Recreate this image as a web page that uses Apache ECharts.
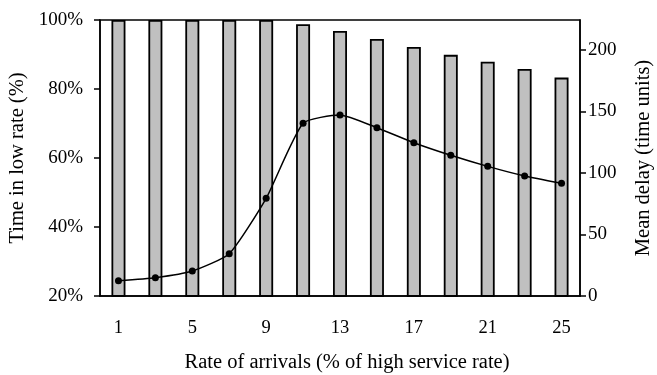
<!DOCTYPE html>
<html>
<head>
<meta charset="utf-8">
<script src="https://cdn.jsdelivr.net/npm/echarts@6/dist/echarts.min.js"></script>
<style>html,body{margin:0;padding:0;background:#fff}#c{width:657px;height:375px}</style>
</head>
<body>
<div id="c"></div>
<script>
var categories = ['1','3','5','7','9','11','13','15','17','19','21','23','25'];
var timeLowRate = [100, 100, 100, 100, 100, 98.8, 96.8, 94.5, 92.2, 89.9, 87.9, 85.8, 83.3];
var meanDelay = [12.4, 14.9, 20.3, 34.4, 79.4, 140.4, 147.2, 136.8, 124.6, 114.4, 105.4, 97.6, 91.6];
var leftTicks = [20, 40, 60, 80, 100];
var rightTicks = [0, 50, 100, 150, 200];

var font = 'Liberation Serif';
var chart = echarts.init(document.getElementById('c'), null, {renderer: 'canvas'});
chart.setOption({
  animation: false,
  backgroundColor: '#fff',
  grid: {left: 100, right: 77, top: 20, bottom: 79, outerBoundsMode: 'none', containLabel: false,
         show: true, borderColor: '#000', borderWidth: 1.5, backgroundColor: 'transparent'},
  xAxis: {
    type: 'category', data: categories, boundaryGap: true,
    name: 'Rate of arrivals (% of high service rate)', nameLocation: 'middle', nameGap: 56,
    nameTextStyle: {fontFamily: font, fontSize: 20.5, color: '#000', padding: [0, 0, 0, 14]},
    axisLine: {lineStyle: {color: '#000', width: 1.5}},
    axisTick: {interval: 1, length: 5, lineStyle: {color: '#000', width: 1.5}},
    axisLabel: {interval: 1, fontFamily: font, fontSize: 18.5, color: '#000', margin: 23},
    splitLine: {show: false}
  },
  yAxis: [{
    type: 'value', min: 20, max: 100, interval: 20,
    name: 'Time in low rate (%)', nameLocation: 'middle', nameGap: 67, nameRotate: 90,
    nameTextStyle: {fontFamily: font, fontSize: 20.5, color: '#000'},
    axisLine: {show: true, lineStyle: {color: '#000', width: 1.5}},
    axisTick: {show: true, length: 6, lineStyle: {color: '#000', width: 1.5}, customValues: leftTicks},
    axisLabel: {fontFamily: font, fontSize: 19, color: '#000', margin: 17, formatter: '{value}%', customValues: leftTicks},
    splitLine: {show: false}
  }, {
    type: 'value', min: 0, max: 224.4, interval: 50, position: 'right',
    name: 'Mean delay (time units)', nameLocation: 'middle', nameGap: 53, nameRotate: 90,
    nameTextStyle: {fontFamily: font, fontSize: 20.5, color: '#000'},
    axisLine: {show: true, lineStyle: {color: '#000', width: 1.5}},
    axisTick: {show: true, length: 6, lineStyle: {color: '#000', width: 1.5}, customValues: rightTicks},
    axisLabel: {fontFamily: font, fontSize: 19, color: '#000', margin: 8, customValues: rightTicks},
    splitLine: {show: false}
  }],
  series: [{
    type: 'bar', data: timeLowRate, yAxisIndex: 0, barWidth: 14,
    itemStyle: {color: '#c0c0c0', borderColor: '#000', borderWidth: 1.8},
    z: 2
  }, {
    type: 'line', data: meanDelay, yAxisIndex: 1, smooth: 0.18,
    symbol: 'circle', symbolSize: 7,
    lineStyle: {color: '#000', width: 1.5},
    itemStyle: {color: '#000'},
    z: 3
  }]
});
</script>
</body>
</html>
